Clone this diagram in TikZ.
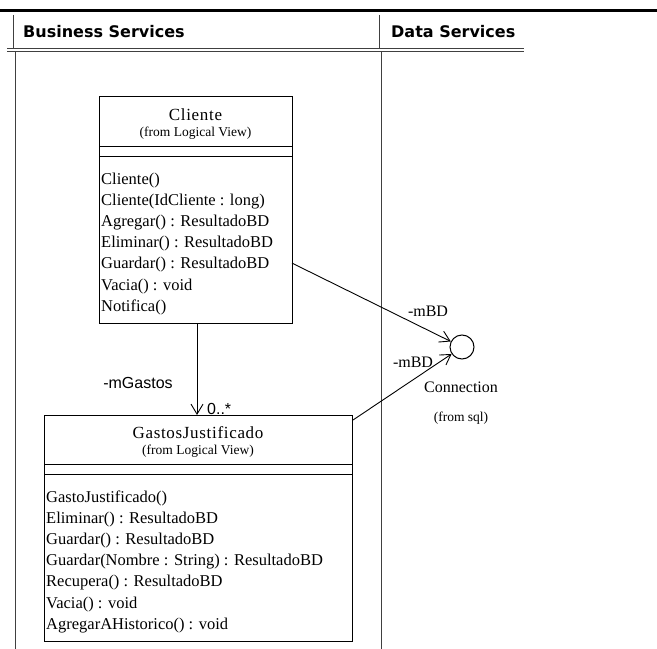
\documentclass[tikz,border=0pt]{standalone}
\usepackage{fontspec}
\setmainfont{Liberation Serif}
\newfontfamily\hdrfont{DejaVu Sans}
\newfontfamily\lblsans{Liberation Sans}
\newfontfamily\ttlfont[LetterSpace=4]{Liberation Serif}
\usetikzlibrary{arrows.meta,calc}
\tikzset{
  lane/.style={line width=1bp, black!75},
  hdr/.style={font=\hdrfont\bfseries\fontsize{16bp}{19bp}\selectfont, anchor=west, inner sep=0},
  cls/.style={draw, line width=1bp, inner sep=0, outer sep=0, anchor=north west},
  sep/.style={line width=1bp},
  ttl/.style={font=\ttlfont\fontsize{17bp}{20bp}\selectfont, inner sep=0},
  frm/.style={font=\fontsize{13.5bp}{16bp}\selectfont, inner sep=0},
  op/.style={font=\fontsize{16.5bp}{20bp}\selectfont, anchor=base west, inner sep=0},
  rel/.style={line width=0.9bp, -{Straight Barb[length=10bp,width=12bp,line width=0.9bp]}},
  rolesans/.style={font=\lblsans\fontsize{16bp}{19bp}\selectfont, inner sep=0},
  roleserif/.style={font=\fontsize{16bp}{19bp}\selectfont, inner sep=0},
  iface/.style={draw, circle, minimum size=24bp, inner sep=0, line width=1bp}
}
\begin{document}
\begin{tikzpicture}[x=1bp,y=-1bp]
\useasboundingbox (0,0) rectangle (657,649);
% swimlanes
\draw[line width=3bp] (0,10.5) -- (657,10.5);
\draw[lane] (13,15) -- (13,49);
\draw[lane] (379,15) -- (379,49);
\draw[lane] (7,48.5) -- (524,48.5);
\draw[lane] (7,51.5) -- (524,51.5);
\draw[lane] (15,52) -- (15,649);
\draw[lane] (381,52) -- (381,649);
\node[hdr] (bs) at (23,32) {Business Services};
\node[hdr] (ds) at (391,32) {Data Services};
% Cliente
\node[cls, minimum width=193bp, minimum height=226bp] (cliente) at (99,97) {};
\draw[sep] (cliente.west |- 0,146) -- (cliente.east |- 0,146);
\draw[sep] (cliente.west |- 0,156) -- (cliente.east |- 0,156);
\node[ttl] (clienteT) at (195.5,115) {Cliente};
\node[frm] (clienteF) at (195.5,133) {(from Logical View)};
\foreach \t [count=\i from 0] in {Cliente(),Cliente(IdCliente : long),Agregar() : ResultadoBD,Eliminar() : ResultadoBD,Guardar() : ResultadoBD,Vacia() : void,Notifica()}
  \node[op] (cop\i) at (101,184+21.2*\i) {\t};
% GastosJustificado
\node[cls, minimum width=308bp, minimum height=226bp] (gastos) at (44,415) {};
\draw[sep] (gastos.west |- 0,464) -- (gastos.east |- 0,464);
\draw[sep] (gastos.west |- 0,474) -- (gastos.east |- 0,474);
\node[ttl] (gastosT) at (198,433) {GastosJustificado};
\node[frm] (gastosF) at (198,451) {(from Logical View)};
\foreach \t [count=\i from 0] in {GastoJustificado(),Eliminar() : ResultadoBD,Guardar() : ResultadoBD,Guardar(Nombre : String) : ResultadoBD,Recupera() : ResultadoBD,Vacia() : void,AgregarAHistorico() : void}
  \node[op] (gop\i) at (46,502+21.2*\i) {\t};
% Connection interface
\node[iface] (conn) at (462,347) {};
\node[roleserif] (connT) at (461,387) {Connection};
\node[frm] (connF) at (461,418) {(from sql)};
% association Cliente -> GastosJustificado
\coordinate (aS) at ($(cliente.south)+(1.5,0)$);
\coordinate (aE) at (aS |- gastos.north);
\draw[rel] (aS) -- (aE);
\node[rolesans] (mg) at (138,383) {-mGastos};
\node[rolesans, anchor=base west] (mult) at (207,414) {0..*};
% associations to Connection
\coordinate (s1) at ($(cliente.north east)!0.735!(cliente.south east)$);
\draw[rel] (s1) -- (conn);
\coordinate (s2) at ($(gastos.north east)+(1,5)$);
\draw[rel] (s2) -- (conn);
\node[roleserif] (bd1) at (428,311) {-mBD};
\node[roleserif] (bd2) at (413,362) {-mBD};
\end{tikzpicture}
\end{document}
